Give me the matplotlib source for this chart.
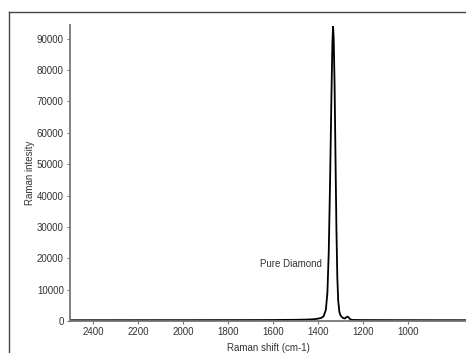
import matplotlib
matplotlib.use('Agg')
import matplotlib.pyplot as plt
from matplotlib.lines import Line2D

plt.rcParams['font.family'] = ['Liberation Sans', 'DejaVu Sans']

# Raman spectrum (shift in cm-1, intensity in counts)
shift = [2502, 2300, 2100, 1900, 1700, 1600, 1500, 1450, 1420, 1400, 1385,
         1375, 1365, 1358, 1352, 1346, 1340, 1336, 1333, 1330, 1326, 1322,
         1318, 1314, 1310, 1305, 1300, 1293, 1286, 1280, 1274, 1268, 1262,
         1255, 1245, 1200, 1100, 1000, 900, 742]
intensity = [250, 260, 270, 280, 300, 320, 380, 450, 550, 750, 1000,
             1500, 3500, 9000, 22000, 45000, 72000, 88000, 94000, 90000, 75000, 52000,
             30000, 14000, 6500, 3000, 1800, 1200, 900, 800, 1200, 1400, 1000,
             450, 330, 300, 280, 270, 260, 250]

xticks = [2400, 2200, 2000, 1800, 1600, 1400, 1200, 1000]
yticks = [0, 10000, 20000, 30000, 40000, 50000, 60000, 70000, 80000, 90000]

W, H = 466, 353
fig = plt.figure(figsize=(W / 100, H / 100), dpi=100)
ax = fig.add_axes([70 / W, (H - 321) / H, (W - 70) / W, (321 - 25.5) / H])

ax.plot(shift, intensity, color='black', lw=1.3)
ax.set_xlim(2502, 742)
ax.set_ylim(0, 94200)
ax.set_xticks(xticks)
ax.set_yticks(yticks)

for s in ['top', 'right']:
    ax.spines[s].set_visible(False)
for s in ['left', 'bottom']:
    ax.spines[s].set_color('#777777')
    ax.spines[s].set_linewidth(1.3)
ax.tick_params(axis='both', colors='#777777', length=2.5, width=0.8, pad=2,
               labelsize=7, labelcolor='#333333')

ax.set_ylabel('Raman intesity', fontsize=7, color='#333333', labelpad=1)
ax.set_xlabel('Raman shift (cm-1)', fontsize=7, color='#333333', labelpad=4)

ax.text(1383, 18200, 'Pure Diamond', fontsize=7, color='#333333',
        ha='right', va='center')

# outer frame (cropped on right and bottom)
fig.add_artist(Line2D([9 / W, 1.0], [(H - 12) / H, (H - 12) / H],
                      transform=fig.transFigure, color='#444444', lw=1.0))
fig.add_artist(Line2D([9 / W, 9 / W], [(H - 12) / H, 0],
                      transform=fig.transFigure, color='#444444', lw=1.0))

fig.savefig('out.png', dpi=100)
